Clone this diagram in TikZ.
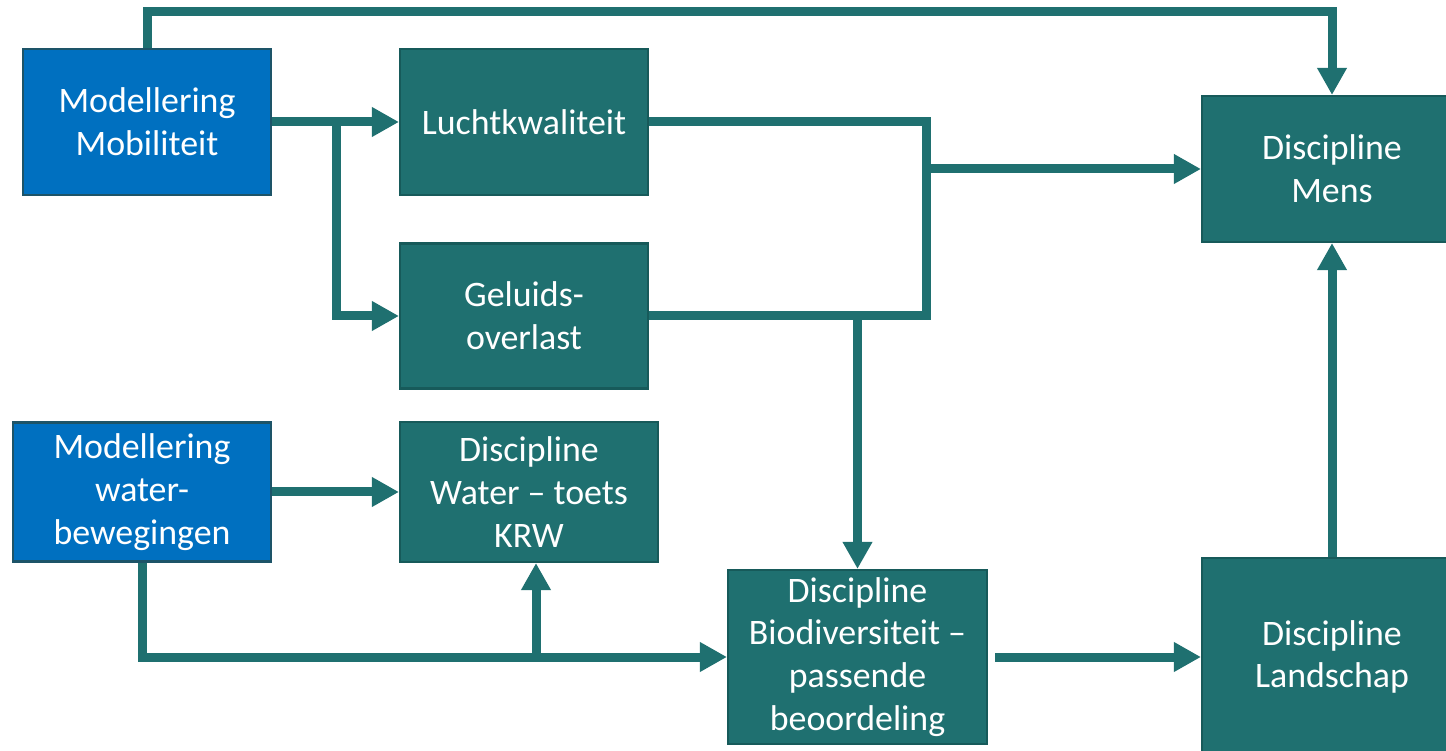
\documentclass[tikz,border=0pt]{standalone}
\usepackage{fontspec}
\setmainfont{Carlito}
\usetikzlibrary{arrows.meta}
\usetikzlibrary{positioning}
\definecolor{teal box}{HTML}{1F7070}
\definecolor{teal edge}{HTML}{175A5A}
\definecolor{blue box}{HTML}{0070C0}
\definecolor{blue edge}{HTML}{1D5468}
\tikzset{
>={Triangle[length=0.27cm,width=0.28cm]}, % All arrows with a wide triangle tip
my box/.style={draw,rectangle,line width=0.6pt,text=white,align=center,
  font=\fontsize{10.2}{12.2}\selectfont,inner sep=0pt},
disc/.style={my box,fill=teal box,draw=teal edge},
model/.style={my box,fill=blue box,draw=blue edge},
flow/.style={draw=teal box,line width=0.09cm,line join=miter},
my size/.style 2 args={minimum width=#1cm,minimum height=#2cm},
}

\begin{document}
\begin{tikzpicture}
\useasboundingbox (0,0) rectangle (14.46,-7.51);
\begin{scope}
\clip (0,0) rectangle (14.46,-7.51);
% boxes
\node[model,my size={2.48}{1.46}] (mm) at (1.47,-1.22) {Modellering\\Mobiliteit};
\node[disc,my size={2.48}{1.46}]  (lk) at (5.24,-1.22) {Luchtkwaliteit};
\node[disc,my size={2.48}{1.45}]  (go) at (5.24,-3.16) {Geluids-\\overlast};
\node[model,my size={2.58}{1.39}] (mw) at (1.42,-4.92) {Modellering\\water-\\bewegingen};
\node[disc,my size={2.58}{1.40}]  (dw) at (5.29,-4.92) {Discipline\\Water -- toets\\KRW};
\node[disc,my size={2.59}{1.74}]  (db) at (8.575,-6.57) {Discipline\\Biodiversiteit --\\passende\\beoordeling};
\node[disc,my size={2.60}{1.46}]  (dm) at (13.32,-1.69) {Discipline\\Mens};
\node[disc,my size={2.60}{1.98}]  (dl) at (13.32,-6.57) {Discipline\\Landschap};
\end{scope}
% junction points
\coordinate (split1) at (3.36,-1.22);
\coordinate (jtop) at (9.26,-1.22);
\coordinate (jbot) at (9.26,-3.16);
\coordinate (split2) at (5.36,-6.57);
% connectors
\draw[flow,->] (mm.north) -- ++(0,0.36) -| (dm.north);
\draw[flow,->] (mm.east) -- (lk.west);
\draw[flow,->] (split1) |- (go.west);
\draw[flow] (lk.east) -- (jtop) -- (jbot) -- (go.east);
\draw[flow,->] (jtop |- dm.west) -- (dm.west);
\draw[flow,->] (go.east -| db.north) -- (db.north);
\draw[flow,->] (mw.east) -- (dw.west);
\draw[flow,->] (mw.south) |- (db.west);
\draw[flow,->] (split2) -- (split2 |- dw.south);
\draw[flow,->] ([xshift=0.07cm]db.east) -- (dl.west);
\draw[flow,->] (dl.north) -- (dm.south);
\end{tikzpicture}
\end{document}
